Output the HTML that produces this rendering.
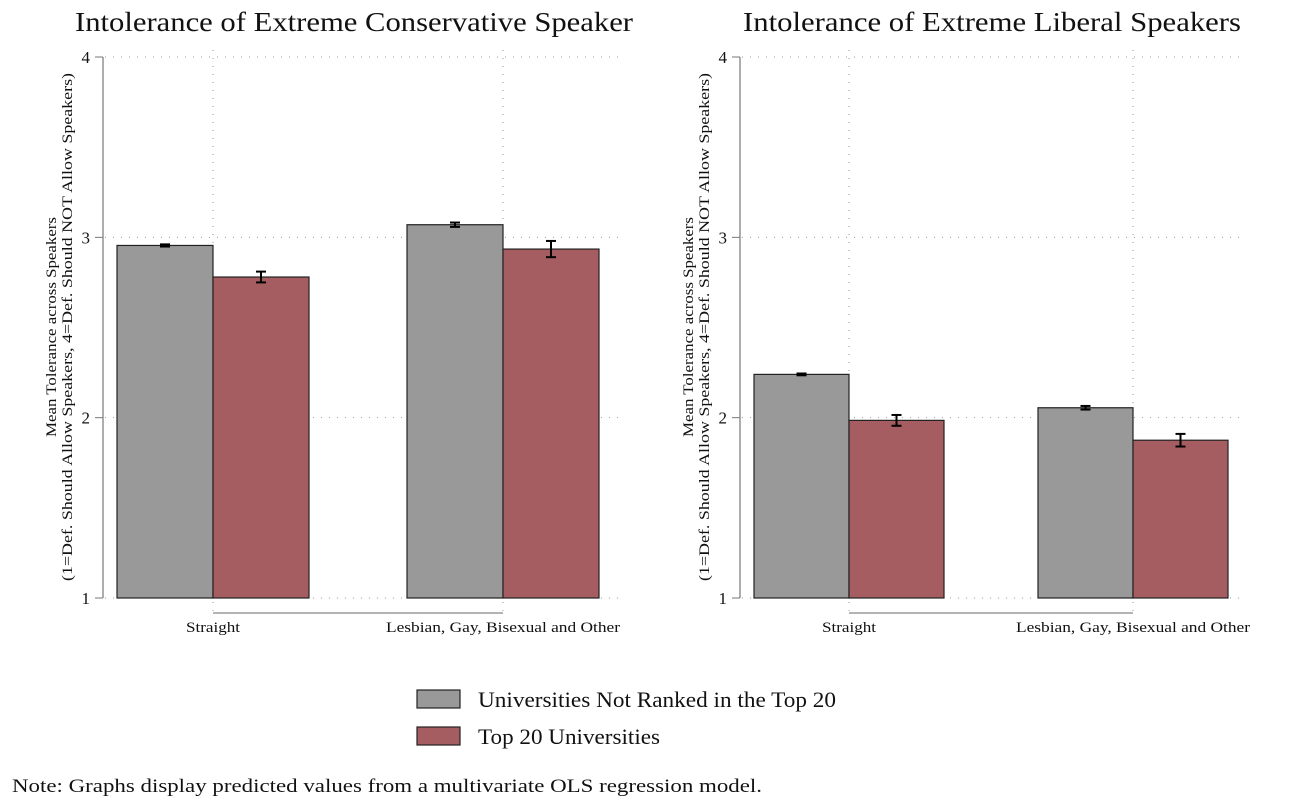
<!DOCTYPE html>
<html><head><meta charset="utf-8"><style>
body{margin:0;background:#fff;}
svg{display:block;font-family:"Liberation Serif",serif;}
</style></head><body>
<svg id="c" width="1294" height="804"></svg>
<script>
const categories=["Straight","Lesbian, Gay, Bisexual and Other"];
const seriesNames=["Universities Not Ranked in the Top 20","Top 20 Universities"];
const consNotTop=[2.955,3.07];
const consTop=[2.78,2.935];
const consNotTopErr=[0.006,0.012];
const consTopErr=[0.03,0.045];
const libNotTop=[2.24,2.055];
const libTop=[1.985,1.875];
const libNotTopErr=[0.005,0.01];
const libTopErr=[0.03,0.035];
const yTicks=[1,2,3,4];
const colors=["#999999","#a55d62"];
const NS="http://www.w3.org/2000/svg";
const svg=document.getElementById("c");
function el(t,a,p){const e=document.createElementNS(NS,t);for(const k in a)e.setAttribute(k,a[k]);(p||svg).appendChild(e);return e;}
function y(v){return 598-(v-1)*180.33;}
function panel(px,c0,c1,bw,right,tcx,tlen,title,s1,s2,e1,e2,pname){
  const g=el("g",{});
  
  
  const centers=[c0,c1];
  const t=el("text",{x:tcx,y:31,"text-anchor":"middle","font-size":27,fill:"#111",textLength:tlen,lengthAdjust:"spacingAndGlyphs"},g);t.textContent=title;
  
  
  yTicks.forEach(v=>{
    el("line",{x1:px+2,x2:right,y1:y(v),y2:y(v),stroke:"#999","stroke-dasharray":"1 7","stroke-width":1},g);
    el("line",{x1:px-8,x2:px,y1:y(v),y2:y(v),stroke:"#777"},g);
    const tl=el("text",{x:px-13,y:y(v)+6,"text-anchor":"end","font-size":17,fill:"#111"},g);tl.textContent=v;
    
    
  });
  centers.forEach(cx=>el("line",{x1:cx,x2:cx,y1:50,y2:612,stroke:"#999","stroke-dasharray":"1 7"},g));
  el("line",{x1:px,x2:px,y1:y(4),y2:y(1),stroke:"#777","stroke-width":1.2},g);
  el("line",{x1:centers[0],x2:centers[1],y1:613,y2:613,stroke:"#888","stroke-width":1.2},g);
  const lens=[54,234];
  categories.forEach((c,i)=>{
    const cx=centers[i];
    [[s1,e1],[s2,e2]].forEach((s,j)=>{
      const x0=j===0?cx-bw:cx;
      const r=el("rect",{x:x0,y:y(s[0][i]),width:bw,height:y(1)-y(s[0][i]),fill:colors[j],stroke:"#222","stroke-width":1.2},g);
      
      
      const mx=x0+bw/2,hi=y(s[0][i]+s[1][i]),lo=y(s[0][i]-s[1][i]);
      el("line",{x1:mx,x2:mx,y1:hi,y2:lo,stroke:"#000","stroke-width":2},g);
      el("line",{x1:mx-5,x2:mx+5,y1:hi,y2:hi,stroke:"#000","stroke-width":2},g);
      el("line",{x1:mx-5,x2:mx+5,y1:lo,y2:lo,stroke:"#000","stroke-width":2},g);
    });
    const xl=el("text",{x:cx,y:632,"text-anchor":"middle","font-size":15,fill:"#111",textLength:lens[i],lengthAdjust:"spacingAndGlyphs"},g);xl.textContent=c;
    
    
  });
  const ax=el("text",{transform:`translate(${px-47},327) rotate(-90)`,"text-anchor":"middle","font-size":15,fill:"#111"},g);
  
  
  const t1=el("tspan",{x:0,dy:0,textLength:220,lengthAdjust:"spacingAndGlyphs"},ax);t1.textContent="Mean Tolerance across Speakers";
  const t2=el("tspan",{x:0,dy:16,textLength:508,lengthAdjust:"spacingAndGlyphs"},ax);t2.textContent="(1=Def. Should Allow Speakers, 4=Def. Should NOT Allow Speakers)";
}
panel(103,213,503,96,625,354,558,"Intolerance of Extreme Conservative Speaker",consNotTop,consTop,consNotTopErr,consTopErr,"conservative-panel");
panel(740,849,1133,95,1245,992,498,"Intolerance of Extreme Liberal Speakers",libNotTop,libTop,libNotTopErr,libTopErr,"liberal-panel");
const legLens=[358,182];
seriesNames.forEach((n,i)=>{
  const g=el("g",{});
  
  
  el("rect",{x:417,y:690+i*37,width:43,height:18,fill:colors[i],stroke:"#222","stroke-width":1.2},g);
  const t=el("text",{x:478,y:707+i*37,"font-size":22,fill:"#111",textLength:legLens[i],lengthAdjust:"spacingAndGlyphs"},g);t.textContent=n;
});
const note=el("text",{x:12,y:792,"font-size":19,fill:"#111",textLength:750,lengthAdjust:"spacingAndGlyphs"});note.textContent="Note: Graphs display predicted values from a multivariate OLS regression model.";


</script>
</body></html>
